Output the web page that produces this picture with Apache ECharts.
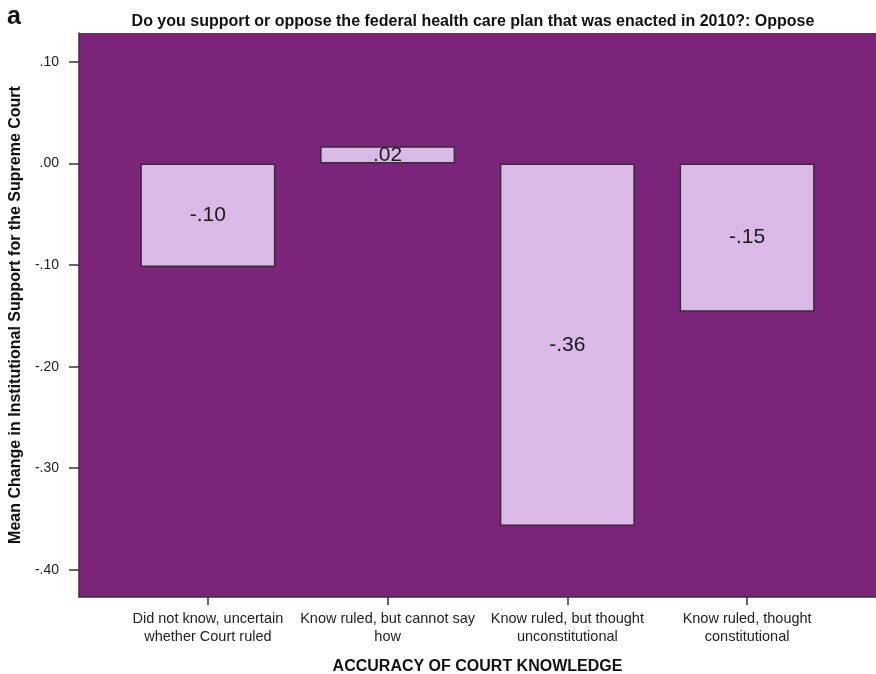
<!DOCTYPE html>
<html>
<head>
<meta charset="utf-8">
<script src="https://cdn.jsdelivr.net/npm/echarts@6/dist/echarts.min.js"></script>
<style>
  html, body { margin: 0; padding: 0; background: #fff; }
  #chart { width: 876px; height: 674px; }
</style>
</head>
<body>
<div id="chart"></div>
<script>
// categories along the x axis
const categories = [
  'Did not know, uncertain\nwhether Court ruled',
  'Know ruled, but cannot say\nhow',
  'Know ruled, but thought\nunconstitutional',
  'Know ruled, thought\nconstitutional'
]
// mean change values
const meanChange = [-0.102, 0.017, -0.357, -0.146]
const yTicks = [-0.4, -0.3, -0.2, -0.1, 0, 0.1]
const catPositions = [0, 1, 2, 3]

const FONT = '"Liberation Sans", Arial, Helvetica, sans-serif'

// .10 / -.10 style, SPSS drops the leading zero
function fmt(v) {
  const s = v.toFixed(2)
  return s.replace(/^(-?)0\./, '$1.')
}

const chart = echarts.init(document.getElementById('chart'))
chart.setOption({
  animation: false,
  textStyle: { fontFamily: FONT },
  title: [
    {
      text: 'Do you support or oppose the federal health care plan that was enacted in 2010?: Oppose',
      left: 468, top: 9, textAlign: 'center',
      textStyle: { fontSize: 16, fontWeight: 'bold', color: '#111', fontFamily: FONT }
    },
    {
      text: 'a',
      left: 2, top: 0,
      textStyle: { fontSize: 25, fontWeight: 'bold', color: '#111', fontFamily: FONT }
    }
  ],
  grid: {
    left: 79, right: 0, top: 33, bottom: 77,
    outerBoundsMode: 'none',
    show: true,
    backgroundColor: '#7b2479',
    borderWidth: 0
  },
  xAxis: {
    type: 'value',
    min: -0.717, max: 3.717,
    name: 'ACCURACY OF COURT KNOWLEDGE',
    nameLocation: 'middle',
    nameGap: 62,
    nameTextStyle: { fontSize: 16, fontWeight: 'bold', color: '#111', fontFamily: FONT },
    axisLine: { show: true, onZero: false, lineStyle: { color: '#3a2e3a', width: 1.5 } },
    axisTick: { show: true, length: 8, customValues: catPositions, lineStyle: { color: '#3a2e3a', width: 1.5 } },
    axisLabel: {
      customValues: catPositions,
      formatter: function (v) { return categories[Math.round(v)] },
      fontSize: 14.5, lineHeight: 18, color: '#222', margin: 13
    },
    splitLine: { show: false }
  },
  yAxis: {
    type: 'value',
    min: -0.4268, max: 0.1285,
    name: 'Mean Change in Institutional Support for the Supreme Court',
    nameLocation: 'middle',
    nameGap: 55,
    nameTextStyle: { fontSize: 16, fontWeight: 'bold', color: '#111', fontFamily: FONT },
    axisLine: { show: true, onZero: false, lineStyle: { color: '#3a2e3a', width: 1.5 } },
    axisTick: { show: true, length: 10, customValues: yTicks, lineStyle: { color: '#3a2e3a', width: 1.5 } },
    axisLabel: {
      customValues: yTicks,
      formatter: fmt,
      fontSize: 14, color: '#222', margin: 20
    },
    splitLine: { show: false }
  },
  series: [{
    type: 'bar',
    data: meanChange.map(function (v, i) { return [catPositions[i], v] }),
    barWidth: 135,
    itemStyle: { color: '#dbb9e7', borderColor: '#3a2a3e', borderWidth: 1.5 },
    label: {
      show: true,
      position: 'inside',
      formatter: function (p) { return fmt(p.value[1]) },
      fontSize: 21, color: '#1a1a1a', fontFamily: FONT
    }
  }]
})
</script>
</body>
</html>
